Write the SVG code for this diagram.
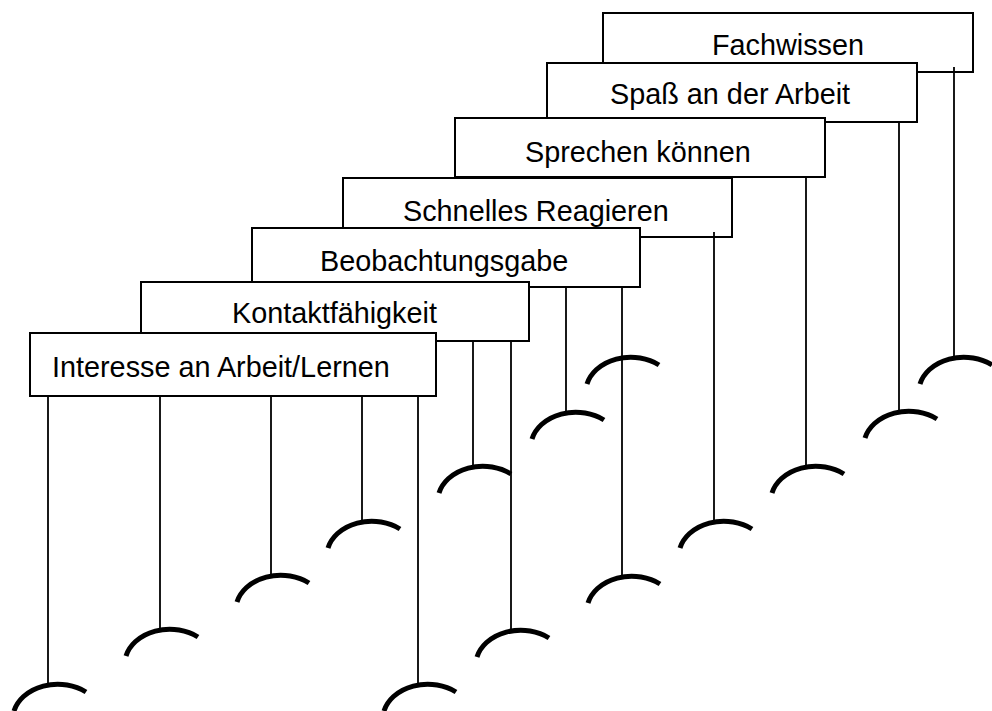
<svg xmlns="http://www.w3.org/2000/svg" xmlns:xlink="http://www.w3.org/1999/xlink" width="992" height="711" viewBox="0 0 992 711">
<style>
.box{fill:#fff;stroke:#000;stroke-width:2}
.lbl{font-family:"Liberation Sans",Arial,sans-serif;font-size:28.8px;fill:#000}
.ln{stroke:#000;stroke-width:1.8;fill:none}
.arc{stroke:#000;stroke-width:5;fill:none}
</style>
<defs>
<path id="arc" class="arc" d="M -34,27 A 45 35 0 0 1 38,8"/>
</defs>
<rect width="992" height="711" fill="#fff"/>
<g id="n-fachwissen"><rect class="box" x="603" y="13" width="370" height="59"/><text class="lbl" x="712" y="55">Fachwissen</text></g>
<g id="n-spass"><rect class="box" x="547" y="63" width="370" height="59"/><text class="lbl" x="610" y="104">Spaß an der Arbeit</text></g>
<g id="n-sprechen"><rect class="box" x="455" y="118" width="370" height="59"/><text class="lbl" x="525" y="162">Sprechen können</text></g>
<g id="n-schnelles"><rect class="box" x="343" y="178" width="389" height="59"/><text class="lbl" x="403" y="221">Schnelles Reagieren</text></g>
<g id="n-beobachtung"><rect class="box" x="252" y="228" width="388" height="59"/><text class="lbl" x="320" y="271">Beobachtungsgabe</text></g>
<g id="n-kontakt"><rect class="box" x="141" y="282" width="388" height="59"/><text class="lbl" x="232" y="323">Kontaktfähigkeit</text></g>
<g id="n-interesse"><rect class="box" x="30" y="333" width="406" height="63"/><text class="lbl" x="52" y="377">Interesse an Arbeit/Lernen</text></g>
<g id="connectors">
<line class="ln" x1="48" y1="396" x2="48" y2="684"/>
<line class="ln" x1="160" y1="396" x2="160" y2="629"/>
<line class="ln" x1="271" y1="396" x2="271" y2="575"/>
<line class="ln" x1="362" y1="396" x2="362" y2="521"/>
<line class="ln" x1="418" y1="396" x2="418" y2="684"/>
<line class="ln" x1="473" y1="341" x2="473" y2="466"/>
<line class="ln" x1="511" y1="341" x2="511" y2="630"/>
<line class="ln" x1="566" y1="287" x2="566" y2="412"/>
<line class="ln" x1="622" y1="287" x2="622" y2="576"/>
<line class="ln" x1="714" y1="232" x2="714" y2="521"/>
<line class="ln" x1="806" y1="177" x2="806" y2="466"/>
<line class="ln" x1="899" y1="122" x2="899" y2="411"/>
<line class="ln" x1="954" y1="67" x2="954" y2="357"/>
<use xlink:href="#arc" x="48" y="684"/>
<use xlink:href="#arc" x="160" y="629"/>
<use xlink:href="#arc" x="271" y="575"/>
<use xlink:href="#arc" x="362" y="521"/>
<use xlink:href="#arc" x="418" y="684"/>
<use xlink:href="#arc" x="473" y="466"/>
<use xlink:href="#arc" x="511" y="630"/>
<use xlink:href="#arc" x="566" y="412"/>
<use xlink:href="#arc" x="622" y="576"/>
<use xlink:href="#arc" x="621" y="357"/>
<use xlink:href="#arc" x="714" y="521"/>
<use xlink:href="#arc" x="806" y="466"/>
<use xlink:href="#arc" x="899" y="411"/>
<use xlink:href="#arc" x="954" y="357"/>
</g>
</svg>
